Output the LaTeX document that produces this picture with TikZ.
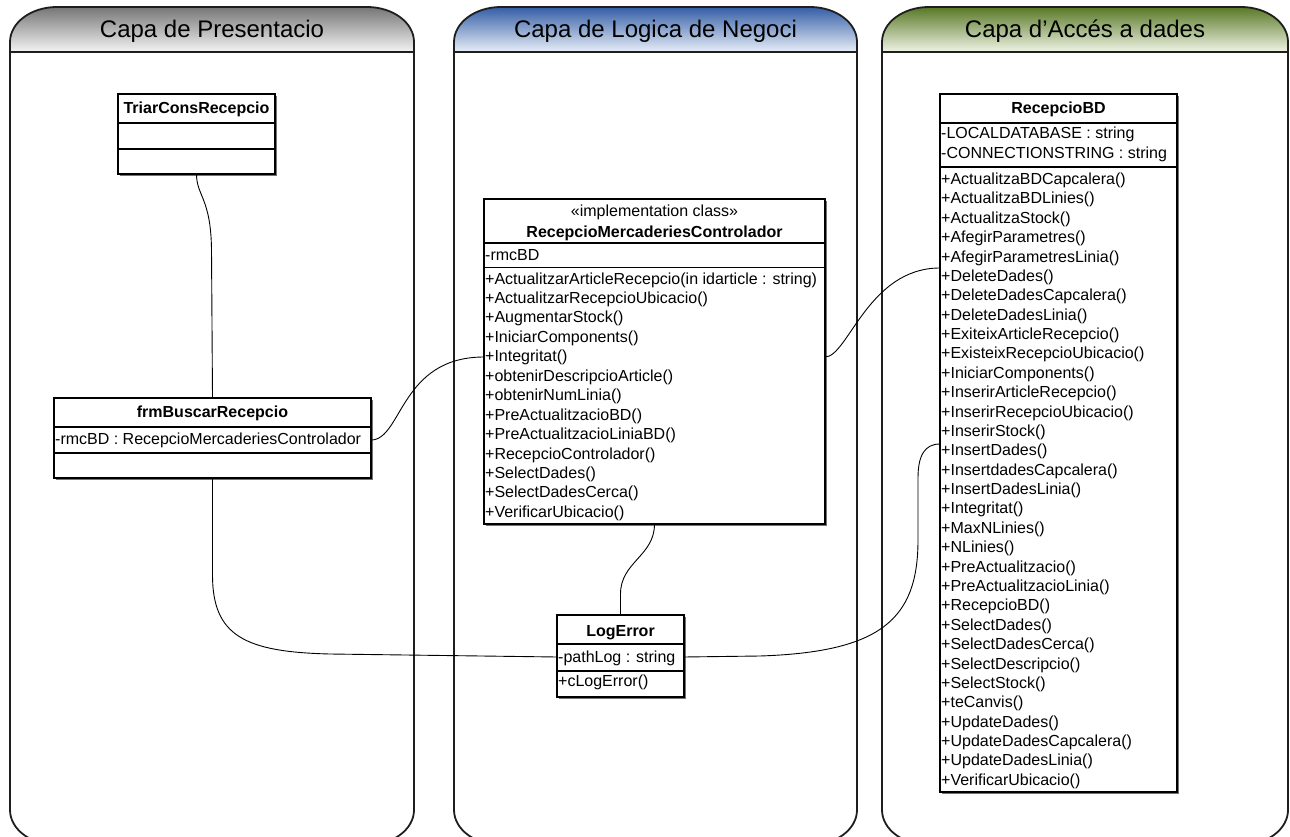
\documentclass[tikz,border=0pt]{standalone}
\usepackage{fontspec}
\setmainfont{Liberation Sans}
\usetikzlibrary{calc,shadows}

\definecolor{grayhead}{RGB}{118,118,118}
\definecolor{grayfoot}{RGB}{244,244,244}
\definecolor{bluehead}{RGB}{52,94,166}
\definecolor{bluefoot}{RGB}{232,238,248}
\definecolor{greenhead}{RGB}{88,120,38}
\definecolor{greenfoot}{RGB}{240,244,230}
\definecolor{laneline}{RGB}{30,30,30}

% outline of a swimlane between x=#1 and x=#2 (rounded top and bottom)
\newcommand\laneoutline[2]{(#1,810) -- (#1,42) .. controls (#1,22.7) and ({#1+21},7) .. ({#1+47},7)
  -- ({#2-47},7) .. controls ({#2-21},7) and (#2,22.7) .. (#2,42)
  -- (#2,810) .. controls (#2,829.3) and ({#2-21},845) .. ({#2-47},845)
  -- ({#1+47},845) .. controls ({#1+21},845) and (#1,829.3) .. (#1,810) -- cycle}
% title band of a swimlane
\newcommand\laneheader[2]{(#1,52) -- (#1,42) .. controls (#1,22.7) and ({#1+21},7) .. ({#1+47},7)
  -- ({#2-47},7) .. controls ({#2-21},7) and (#2,22.7) .. (#2,42) -- (#2,52) -- cycle}

\tikzset{
  lanetitle/.style={anchor=base, font=\fontsize{24}{28}\selectfont, text=black, inner sep=0pt},
  laneedge/.style={draw=laneline, line width=1.8pt},
  classbox/.style={draw=black, line width=1.1pt, fill=white, anchor=north west,
    inner sep=0pt, outer sep=0pt,
    drop shadow={shadow xshift=1.6pt, shadow yshift=-1.6pt, fill=black!55, opacity=1}},
  sepline/.style={draw=black, line width=1.1pt},
  cname/.style={anchor=base, inner sep=0pt, font=\bfseries\fontsize{16}{19.4}\selectfont},
  cstereo/.style={anchor=base, inner sep=0pt, font=\fontsize{16}{19.4}\selectfont},
  member/.style={anchor=base west, inner sep=0pt, font=\fontsize{16}{19.4}\selectfont},
  conn/.style={draw=black, line width=0.9pt},
}

\begin{document}
\begin{tikzpicture}[x=1pt,y=-1pt]
\useasboundingbox (0,0) rectangle (1290,837);
\clip (0,0) rectangle (1290,837);
\fill[white] (0,0) rectangle (1290,837);

% ---- swimlanes ----
\fill[white] \laneoutline{10}{414};
\shade[top color=grayhead, bottom color=grayfoot] \laneheader{10}{414};
\draw[laneedge] (10,52) -- (414,52);
\draw[laneedge] \laneoutline{10}{414};
\node[lanetitle] (lane1) at (212,38) {Capa de Presentacio};

\fill[white] \laneoutline{454}{857};
\shade[top color=bluehead, bottom color=bluefoot] \laneheader{454}{857};
\draw[laneedge] (454,52) -- (857,52);
\draw[laneedge] \laneoutline{454}{857};
\node[lanetitle] (lane2) at (655.5,38) {Capa de Logica de Negoci};

\fill[white] \laneoutline{882}{1288};
\shade[top color=greenhead, bottom color=greenfoot] \laneheader{882}{1288};
\draw[laneedge] (882,52) -- (1288,52);
\draw[laneedge] \laneoutline{882}{1288};
\node[lanetitle] (lane3) at (1085,38) {Capa d’Accés a dades};

% ---- TriarConsRecepcio ----
\node[classbox, minimum width=157, minimum height=80] (triar) at (118,94) {};
\draw[sepline] (triar.west |- 0,123) -- (triar.east |- 0,123);
\draw[sepline] (triar.west |- 0,149) -- (triar.east |- 0,149);
\node[cname] (triar-n) at (triar.north |- 0,114) {TriarConsRecepcio};

% ---- frmBuscarRecepcio ----
\node[classbox, minimum width=317, minimum height=80] (frm) at (54,398) {};
\draw[sepline] (frm.west |- 0,427) -- (frm.east |- 0,427);
\draw[sepline] (frm.west |- 0,453) -- (frm.east |- 0,453);
\node[cname] (frm-n) at (frm.north |- 0,417.5) {frmBuscarRecepcio};
\node[member] (frm-a) at (55,444) {-rmcBD : RecepcioMercaderiesControlador};

% ---- RecepcioMercaderiesControlador ----
\node[classbox, minimum width=341, minimum height=325] (mid) at (484,199) {};
\draw[sepline] (mid.west |- 0,243) -- (mid.east |- 0,243);
\draw[sepline] (mid.west |- 0,267.5) -- (mid.east |- 0,267.5);
\node[cstereo] (mid-s) at (mid.north |- 0,217) {«implementation class»};
\node[cname] (mid-n) at (mid.north |- 0,237) {RecepcioMercaderiesControlador};
\node[member] (mid-a) at (485,260) {-rmcBD};
\foreach \m [count=\i from 0] in {%
  +ActualitzarArticleRecepcio(in idarticle : string),
  +ActualitzarRecepcioUbicacio(),
  +AugmentarStock(),
  +IniciarComponents(),
  +Integritat(),
  +obtenirDescripcioArticle(),
  +obtenirNumLinia(),
  +PreActualitzacioBD(),
  +PreActualitzacioLiniaBD(),
  +RecepcioControlador(),
  +SelectDades(),
  +SelectDadesCerca(),
  +VerificarUbicacio()}
  \node[member] (mid-m\i) at (485, 284+19.45*\i) {\m};

% ---- LogError ----
\node[classbox, minimum width=127, minimum height=82] (log) at (557,615) {};
\draw[sepline] (log.west |- 0,644) -- (log.east |- 0,644);
\draw[sepline] (log.west |- 0,671) -- (log.east |- 0,671);
\node[cname] (log-n) at (log.north |- 0,636) {LogError};
\node[member] (log-a) at (558,662) {-pathLog : string};
\node[member] (log-m) at (558,686) {+cLogError()};

% ---- RecepcioBD ----
\node[classbox, minimum width=237, minimum height=698] (bd) at (940,94) {};
\draw[sepline] (bd.west |- 0,123) -- (bd.east |- 0,123);
\draw[sepline] (bd.west |- 0,167) -- (bd.east |- 0,167);
\node[cname] (bd-n) at (bd.north |- 0,114) {RecepcioBD};
\node[member] (bd-a1) at (941,139) {-LOCALDATABASE : string};
\node[member] (bd-a2) at (941,159) {-CONNECTIONSTRING : string};
\foreach \m [count=\i from 0] in {%
  +ActualitzaBDCapcalera(),
  +ActualitzaBDLinies(),
  +ActualitzaStock(),
  +AfegirParametres(),
  +AfegirParametresLinia(),
  +DeleteDades(),
  +DeleteDadesCapcalera(),
  +DeleteDadesLinia(),
  +ExiteixArticleRecepcio(),
  +ExisteixRecepcioUbicacio(),
  +IniciarComponents(),
  +InserirArticleRecepcio(),
  +InserirRecepcioUbicacio(),
  +InserirStock(),
  +InsertDades(),
  +InsertdadesCapcalera(),
  +InsertDadesLinia(),
  +Integritat(),
  +MaxNLinies(),
  +NLinies(),
  +PreActualitzacio(),
  +PreActualitzacioLinia(),
  +RecepcioBD(),
  +SelectDades(),
  +SelectDadesCerca(),
  +SelectDescripcio(),
  +SelectStock(),
  +teCanvis(),
  +UpdateDades(),
  +UpdateDadesCapcalera(),
  +UpdateDadesLinia(),
  +VerificarUbicacio()}
  \node[member] (bd-m\i) at (941, 184.5+19.38*\i) {\m};

% ---- connection points on member rows ----
\coordinate (frm-r) at (frm.east |- 0,440);
\coordinate (mid-l) at (mid.west |- 0,357);
\coordinate (mid-r) at (mid.east |- 0,357);
\coordinate (bd-l1) at (bd.west |- 0,268);
\coordinate (bd-l2) at (bd.west |- 0,444);
\coordinate (log-l) at (log.west |- 0,657);
\coordinate (log-r) at (log.east |- 0,657);

% ---- associations ----
\draw[conn] (triar.south) .. controls (196.5,196) and (211,198) .. (211.5,250) -- (frm.north);
\draw[conn] (frm-r) .. controls (402,440) and (400,357) .. (mid-l);
\draw[conn] (mid-r) .. controls (848,357) and (868,268) .. (bd-l1);
\draw[conn] (mid.south) .. controls (654.5,556) and (620.5,562) .. (620.5,594) -- (log.north);
\draw[conn] (frm.south) -- (212.5,575) .. controls (212.5,636) and (245,652) .. (330,654) -- (log-l);
\draw[conn] (log-r) -- (760,656) .. controls (880,652) and (918,620) .. (918,540)
  -- (918,478) .. controls (918,455) and (925,444) .. (bd-l2);
\end{tikzpicture}
\end{document}
